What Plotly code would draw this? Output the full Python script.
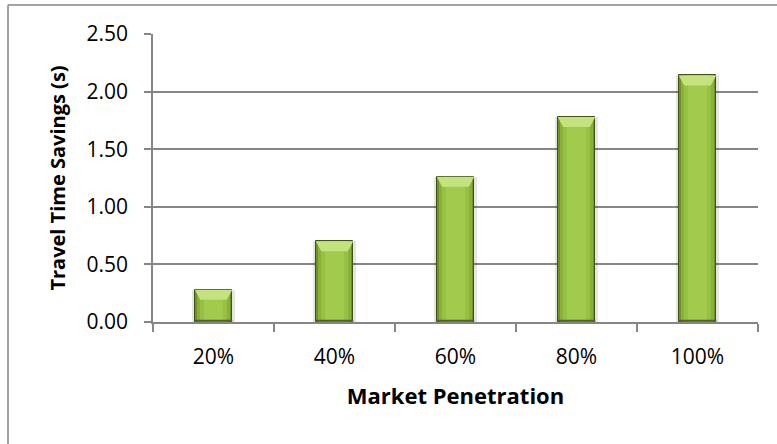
import plotly.graph_objects as go

# Travel time savings by market penetration
categories = ["20%", "40%", "60%", "80%", "100%"]
savings = [0.28, 0.70, 1.26, 1.78, 2.14]
y_ticks = [0.0, 0.5, 1.0, 1.5, 2.0, 2.5]
y_tick_labels = ["0.00", "0.50", "1.00", "1.50", "2.00", "2.50"]

W, H = 777, 444
ML, MR, MT, MB = 153, 19, 34, 122
PW, PH = W - ML - MR, H - MT - MB
Y_MAX = 2.5
GRID = "#868686"
FONT = "Open Sans"

BAR_W = 0.31
fig = go.Figure()

# soft drop shadow behind each bar
fig.add_trace(go.Bar(x=categories, y=savings, width=BAR_W + 0.05,
                     marker=dict(color="rgba(0,0,0,0.10)", line=dict(width=0)),
                     hoverinfo="skip"))
# layered fills give a rounded, shaded look
layers = [
    (BAR_W, "#6f9128", dict(color="#3f5218", width=1)),
    (BAR_W - 0.04, "#88b139", dict(width=0)),
    (BAR_W - 0.09, "#97c143", dict(width=0)),
    (BAR_W - 0.16, "#a2ca4c", dict(width=0)),
]
for w, c, ln in layers:
    fig.add_trace(go.Bar(x=categories, y=savings, width=w,
                         marker=dict(color=c, line=ln), hoverinfo="skip"))

# bevelled top face on every bar, derived from the bar values
px_per_unit = PH / Y_MAX
bevel = 10 / px_per_unit
inset = 0.045
shapes = []
for i, v in enumerate(savings):
    x0, x1 = i - BAR_W / 2, i + BAR_W / 2
    d = min(bevel, v * 0.45)
    path = (f"M {x0},{v} L {x1},{v} L {x1 - inset},{v - d} "
            f"L {x0 + inset},{v - d} Z")
    shapes.append(dict(type="path", xref="x", yref="y", path=path,
                       fillcolor="#c4e27e", line=dict(width=0), layer="above"))
    # darker base line
    shapes.append(dict(type="line", xref="x", yref="y", x0=x0, x1=x1,
                       y0=0.01, y1=0.01, line=dict(color="#4f6228", width=2),
                       layer="above"))

# outer chart frame (left and top edges)
fx0 = (8 - ML) / PW
fy1 = 1 + (MT - 5) / PH
shapes.append(dict(type="line", xref="paper", yref="paper", x0=fx0, x1=fx0,
                   y0=-MB / PH - 0.1, y1=fy1, line=dict(color=GRID, width=1.5)))
shapes.append(dict(type="line", xref="paper", yref="paper", x0=fx0, x1=1 + MR / PW + 0.1,
                   y0=fy1, y1=fy1, line=dict(color=GRID, width=1.5)))

fig.update_layout(
    width=W, height=H,
    margin=dict(l=ML, r=MR, t=MT, b=MB),
    paper_bgcolor="white", plot_bgcolor="white",
    barmode="overlay", bargap=0, showlegend=False,
    shapes=shapes,
    font=dict(family=FONT, color="#000000"),
)
fig.update_xaxes(
    type="category", showgrid=False, showline=True, linecolor=GRID, linewidth=1.5,
    ticks="outside", tickson="boundaries", ticklen=8, tickcolor=GRID, tickwidth=1.5,
    tickfont=dict(size=21, family=FONT), ticklabelstandoff=15,
    title=dict(text="<b>Market Penetration</b>", font=dict(size=22, family=FONT), standoff=20),
    range=[-0.5, len(categories) - 0.5],
)
fig.update_yaxes(
    range=[0, Y_MAX], tickvals=y_ticks, ticktext=y_tick_labels,
    showgrid=True, gridcolor=GRID, gridwidth=1.5, zeroline=False,
    showline=True, linecolor=GRID, linewidth=1.5,
    ticks="outside", ticklen=7, tickcolor=GRID, tickwidth=1.5,
    tickfont=dict(size=21, family=FONT), ticklabelstandoff=12,
    title=dict(text="<b>Travel Time Savings (s)</b>", font=dict(size=20, family=FONT), standoff=16),
)

fig.write_html("out.html")
